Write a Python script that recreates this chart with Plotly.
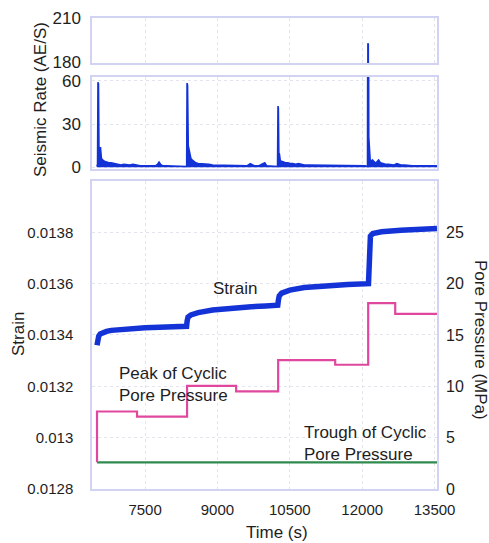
import plotly.graph_objects as go

# ---------------- data ----------------
seis_t = [6500, 6515, 6524, 6534, 6545, 6560, 6575, 6595, 6615, 6640, 6670, 6700, 6750, 6800, 6850, 6900,
          6950, 7000, 7060, 7120, 7180, 7250, 7320, 7400, 7480, 7560, 7640, 7720, 7760, 7790, 7820, 7860,
          7940, 8020, 8100, 8180, 8260, 8350,
          8362, 8370, 8380, 8395, 8410, 8430, 8450, 8480, 8510, 8550, 8600, 8650, 8700, 8760, 8820, 8900,
          8980, 9060, 9140, 9220, 9300, 9380, 9460, 9540, 9620, 9680, 9720, 9760, 9800, 9860, 9920, 9980,
          10020, 10060, 10100, 10140, 10200, 10245,
          10255, 10262, 10272, 10285, 10300, 10320, 10350, 10380, 10420, 10460, 10500, 10560, 10620, 10680,
          10740, 10800, 10880, 10960, 11040, 11120, 11200, 11280, 11360, 11440, 11520, 11600, 11680, 11760,
          11840, 11920, 12000, 12060, 12110,
          12118, 12126, 12136, 12150, 12165, 12185, 12210, 12240, 12270, 12300, 12340, 12380, 12420, 12480,
          12540, 12600, 12660, 12720, 12800, 12880, 12960, 13040, 13120, 13200, 13280, 13360, 13440, 13550]
seis_r = [0.5, 2, 59, 58, 10, 13, 14, 6, 5, 4.5, 4, 3.5, 3, 3, 2.5, 2,
          2, 1.5, 2, 1.5, 1.5, 2, 1.5, 1, 1, 1, 1, 1, 2, 3.5, 2, 1,
          1, 1, 1, 1, 1, 1,
          0.5, 58.5, 57, 15, 12, 8, 6, 5, 4, 3, 2.5, 2.5, 2, 2, 2, 1.5,
          1.5, 1.5, 1.5, 1, 1, 1, 1, 1, 1, 2.5, 1.5, 1, 1, 1, 2, 3,
          1, 1, 1, 1, 1, 0.5,
          42.5, 41, 10, 9, 5, 4, 4, 3.5, 3, 3, 2.5, 2.5, 2, 2.5,
          2, 1.5, 1.5, 1.5, 1.5, 1, 1, 1, 1, 1, 1, 1, 1, 1,
          1, 1, 1, 1, 0.5,
          193, 192, 21, 12, 5, 4, 5, 4, 3, 3.5, 5, 3, 2.5, 2,
          2, 2, 1.5, 2.5, 1.5, 1.5, 1, 1, 1, 1, 1, 1, 1, 1]

strain_t = [6504, 6520, 6540, 6570, 6620, 6700, 6800, 6950, 7100, 7300, 7500, 7800, 8100, 8360,
            8372, 8390, 8450, 8600, 8900, 9300, 9700, 10000, 10250,
            10262, 10280, 10330, 10500, 10800, 11200, 11700, 12130,
            12142, 12150, 12170, 12220, 12400, 12800, 13200, 13550]
strain_v = [0.013360, 0.013380, 0.013396, 0.013404, 0.013410, 0.013414, 0.013418, 0.013421, 0.013424,
            0.013426, 0.013428, 0.013430, 0.013432, 0.013434,
            0.013455, 0.013470, 0.013478, 0.013487, 0.013497, 0.013505, 0.013510, 0.013513, 0.013516,
            0.013535, 0.013552, 0.013563, 0.013575, 0.013585, 0.013592, 0.013597, 0.013600,
            0.013700, 0.013765, 0.013785, 0.013795, 0.013802, 0.013808, 0.013812, 0.013815]

peak_t = [6504, 6504, 7333, 8370, 9387, 10258, 11440, 12124, 12684, 13550]
peak_v = [2.6, 7.55, 7.05, 10.05, 9.5, 12.55, 12.1, 18.1, 17.05, 17.05]

trough_t = [6504, 13550]
trough_v = [2.6, 2.6]

x_ticks = [7500, 9000, 10500, 12000, 13500]
x_ticktext = ["7500", "9000", "10500", "12000", "13500"]
strain_ticks = [0.0128, 0.0130, 0.0132, 0.0134, 0.0136, 0.0138]
strain_ticktext = ["0.0128", "0.013", "0.0132", "0.0134", "0.0136", "0.0138"]
pore_ticks = [0, 5, 10, 15, 20, 25]
rate_ticks_low = [0, 30, 60]
rate_ticks_high = [180, 210]

# ---------------- styling ----------------
FRAME = "#d2d2f2"
GRID = "#e4e4ec"
TXT = "#1e1e1e"
SANS = "Liberation Sans, Arial, sans-serif"
BLUE = "#1433d6"

fig = go.Figure()

for xa, ya in (("x2", "y2"), ("x3", "y3")):
    fig.add_trace(go.Scatter(x=seis_t, y=seis_r, xaxis=xa, yaxis=ya, mode="lines",
                             fill="tozeroy", fillcolor=BLUE,
                             line=dict(color=BLUE, width=1.6), showlegend=False))

fig.add_trace(go.Scatter(x=strain_t, y=strain_v, xaxis="x", yaxis="y", mode="lines",
                         line=dict(color=BLUE, width=5.5),
                         showlegend=False))
fig.add_trace(go.Scatter(x=trough_t, y=trough_v, xaxis="x", yaxis="y4", mode="lines",
                         line=dict(color="#2f8a4e", width=2.2), showlegend=False))
fig.add_trace(go.Scatter(x=peak_t, y=peak_v, xaxis="x", yaxis="y4", mode="lines",
                         line=dict(color="#e0489e", width=2.2, shape="hv"), showlegend=False))

xcommon = dict(range=[6400, 13550], tickvals=x_ticks, ticktext=x_ticktext, showgrid=True,
               gridcolor=GRID, griddash="dot",
               gridwidth=1, showline=True, mirror=True, linecolor=FRAME, linewidth=1.5,
               ticks="", zeroline=False)

fig.update_layout(
    width=489, height=543,
    margin=dict(l=92, r=52, t=18, b=54, autoexpand=False),
    paper_bgcolor="white", plot_bgcolor="white",
    font=dict(family=SANS, size=17, color=TXT),
    xaxis=dict(xcommon, anchor="y", domain=[0, 1], automargin=False,
               tickfont=dict(family=SANS, size=15, color=TXT), ticklabelstandoff=6),
    xaxis2=dict(xcommon, anchor="y2", matches="x", showticklabels=False),
    xaxis3=dict(xcommon, anchor="y3", matches="x", showticklabels=False),
    yaxis=dict(domain=[0, 0.654], anchor="x", range=[0.0128, 0.0140], tickvals=strain_ticks,
               ticktext=strain_ticktext, showgrid=True, gridcolor=GRID, griddash="dot",
               showline=True, mirror=True, linecolor=FRAME, linewidth=1.5, ticks="", zeroline=False,
               automargin=False,
               tickfont=dict(family=SANS, size=15, color=TXT), ticklabelstandoff=14),
    yaxis4=dict(overlaying="y", side="right", anchor="x", range=[0, 30], tickvals=pore_ticks,
                showgrid=False, showline=False, ticks="", zeroline=False, automargin=False,
                tickfont=dict(family=SANS, size=16, color=TXT), ticklabelstandoff=8),
    yaxis2=dict(domain=[0.679, 0.875], anchor="x2", range=[-1.4, 62.8], tickvals=rate_ticks_low,
                showgrid=True, gridcolor=GRID, griddash="dot", showline=True, mirror=True,
                linecolor=FRAME, linewidth=1.5, ticks="", zeroline=False, automargin=False,
                tickfont=dict(family=SANS, size=17, color=TXT), ticklabelstandoff=6),
    yaxis3=dict(domain=[0.904, 1.0], anchor="x3", range=[179.5, 210], tickvals=rate_ticks_high,
                showgrid=False, showline=True, mirror=True, automargin=False,
                linecolor=FRAME, linewidth=1.5, ticks="", zeroline=False,
                tickfont=dict(family=SANS, size=17, color=TXT), ticklabelstandoff=6),
)


def px(xp):
    return (xp - 92) / 345.0


def py(yp):
    return (489 - yp) / 471.0


ann = [
    dict(text="Seismic Rate (AE/S)", x=px(41), y=py(100), textangle=-90),
    dict(text="Strain", x=px(18), y=py(334), textangle=-90),
    dict(text="Pore Pressure (MPa)", x=px(481), y=py(340), textangle=90),
    dict(text="Time (s)", x=px(277), y=py(532)),
    dict(text="Strain", x=px(235), y=py(288)),
    dict(text="Peak of Cyclic<br>Pore Pressure", x=px(117), y=py(384), xanchor="left", align="left"),
    dict(text="Trough of Cyclic<br>Pore Pressure", x=px(302), y=py(443), xanchor="left", align="left"),
]
for a in ann:
    base = dict(xref="paper", yref="paper", showarrow=False, xanchor="center", yanchor="middle",
                font=dict(family=SANS, size=17, color=TXT))
    base.update(a)
    fig.add_annotation(**base)

fig.write_html("out.html", config={"displayModeBar": False},
               post_script="document.body.style.margin='0px';")
